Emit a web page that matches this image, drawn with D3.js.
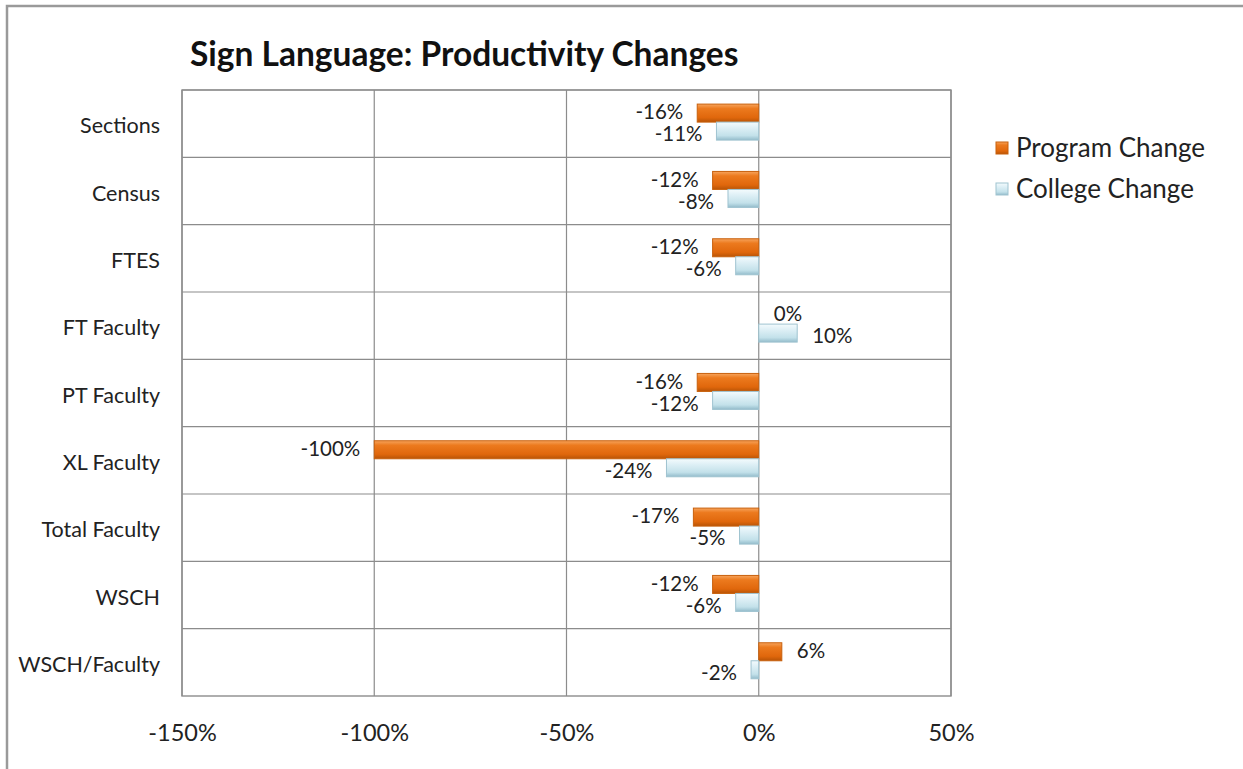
<!DOCTYPE html>
<html>
<head>
<meta charset="utf-8">
<script src="https://cdn.jsdelivr.net/npm/d3@7/dist/d3.min.js"></script>
<style>
html,body{margin:0;padding:0;background:#fff;}
svg{display:block;font-family:Lato,"Open Sans",sans-serif;}
</style>
</head>
<body>
<svg id="chart" width="1243" height="769"></svg>
<script>
const categories = ["Sections","Census","FTES","FT Faculty","PT Faculty","XL Faculty","Total Faculty","WSCH","WSCH/Faculty"];
const programChange = [-0.16,-0.12,-0.12,0,-0.16,-1.00,-0.17,-0.12,0.06];
const collegeChange = [-0.11,-0.08,-0.06,0.10,-0.12,-0.24,-0.05,-0.06,-0.02];
const seriesNames = ["Program Change","College Change"];
const xTicks = [-1.5,-1.0,-0.5,0,0.5];
const title = "Sign Language: Productivity Changes";

const svg = d3.select("#chart");
const plot = {left:182, right:951, top:90, bottom:696};

// outer frame
svg.append("path").attr("d","M7,775 L7,6 L1250,6").attr("fill","none").attr("stroke","#9a9a9a").attr("stroke-width",2.5);

const defs = svg.append("defs");
const gO = defs.append("linearGradient").attr("id","gOrange").attr("x1",0).attr("y1",0).attr("x2",0).attr("y2",1);
[[0,"#f7a45c"],[0.25,"#ec7a1e"],[0.75,"#e0670c"],[1,"#b85406"]].forEach(s=>gO.append("stop").attr("offset",s[0]).attr("stop-color",s[1]));
const gB = defs.append("linearGradient").attr("id","gBlue").attr("x1",0).attr("y1",0).attr("x2",0).attr("y2",1);
[[0,"#f4fbfd"],[0.3,"#dff0f6"],[0.75,"#c3e1ea"],[1,"#93bccb"]].forEach(s=>gB.append("stop").attr("offset",s[0]).attr("stop-color",s[1]));
const fills = ["url(#gOrange)","url(#gBlue)"];
const strokes = ["#c8600c","#9fc3d0"];

const x = d3.scaleLinear().domain([-1.5,0.5]).range([plot.left,plot.right]);
const y = d3.scaleBand().domain(categories).range([plot.top,plot.bottom]).padding(0);
const ys = d3.scaleBand().domain(seriesNames).range([0,y.bandwidth()]).paddingInner(0).paddingOuter(0.87).align(0.45);

// gridlines
const gridColor = "#8c8c8c";
svg.append("g").selectAll("line.v").data(xTicks).join("line")
  .attr("x1",d=>x(d)).attr("x2",d=>x(d)).attr("y1",plot.top).attr("y2",plot.bottom)
  .attr("stroke",gridColor).attr("stroke-width",1.2);
svg.append("g").selectAll("line.h").data(categories).join("line")
  .attr("x1",plot.left).attr("x2",plot.right).attr("y1",d=>y(d)).attr("y2",d=>y(d))
  .attr("stroke",gridColor).attr("stroke-width",1.2);
svg.append("rect").attr("x",plot.left).attr("y",plot.top).attr("width",plot.right-plot.left).attr("height",plot.bottom-plot.top)
  .attr("fill","none").attr("stroke",gridColor).attr("stroke-width",1.4);

// axes labels
const xAxis = d3.axisBottom(x).tickValues(xTicks).tickFormat(d=>Math.round(d*100)+"%").tickSize(0).tickPadding(0);
const gx = svg.append("g").attr("transform",`translate(0,${plot.bottom+28})`).call(xAxis);
gx.select(".domain").remove();
gx.selectAll("text").attr("font-family","Lato").attr("font-size",23.5).attr("fill","#222").attr("dy","0.71em");

const yAxis = d3.axisLeft(y).tickSize(0).tickPadding(22);
const gy = svg.append("g").attr("transform",`translate(${plot.left},0)`).call(yAxis);
gy.select(".domain").remove();
gy.selectAll("text").attr("font-family","Lato").attr("font-size",21.5).attr("fill","#222").attr("dy","0.45em");

// bars
const data = [];
categories.forEach((c,i)=>{
  data.push({cat:c, s:0, v:programChange[i]});
  data.push({cat:c, s:1, v:collegeChange[i]});
});
const bars = svg.append("g");
bars.selectAll("rect").data(data).join("rect")
  .attr("x",d=>Math.min(x(0),x(d.v)))
  .attr("width",d=>Math.abs(x(d.v)-x(0)))
  .attr("y",d=>y(d.cat)+ys(seriesNames[d.s]))
  .attr("height",ys.bandwidth())
  .attr("fill",d=>fills[d.s])
  .attr("stroke",d=>strokes[d.s]).attr("stroke-width",1);

// labels
svg.append("g").selectAll("text").data(data).join("text")
  .attr("x",d=>d.v<0 ? x(d.v)-14 : x(d.v)+15)
  .attr("y",d=>y(d.cat)+ys(seriesNames[d.s])+ys.bandwidth()/2 + (d.s===1?3:-1))
  .attr("dy","0.35em")
  .attr("text-anchor",d=>d.v<0?"end":"start")
  .attr("font-family","Lato").attr("font-size",20.5).attr("fill","#222")
  .text(d=>Math.round(d.v*100)+"%");

// title
svg.append("text").attr("x",190).attr("y",66).attr("font-family","Lato").attr("font-weight","bold")
  .attr("font-size",33.5).attr("fill","#111").text(title);

// legend
const lg = svg.append("g");
seriesNames.forEach((n,i)=>{
  const yy = 148 + i*41;
  lg.append("rect").attr("x",996).attr("y",yy-6).attr("width",12).attr("height",12)
    .attr("fill",fills[i]).attr("stroke",strokes[i]);
  lg.append("text").attr("x",1016).attr("y",yy).attr("dy","0.35em")
    .attr("font-family","Lato").attr("font-size",26).attr("fill","#222").text(n);
});
</script>
</body>
</html>
